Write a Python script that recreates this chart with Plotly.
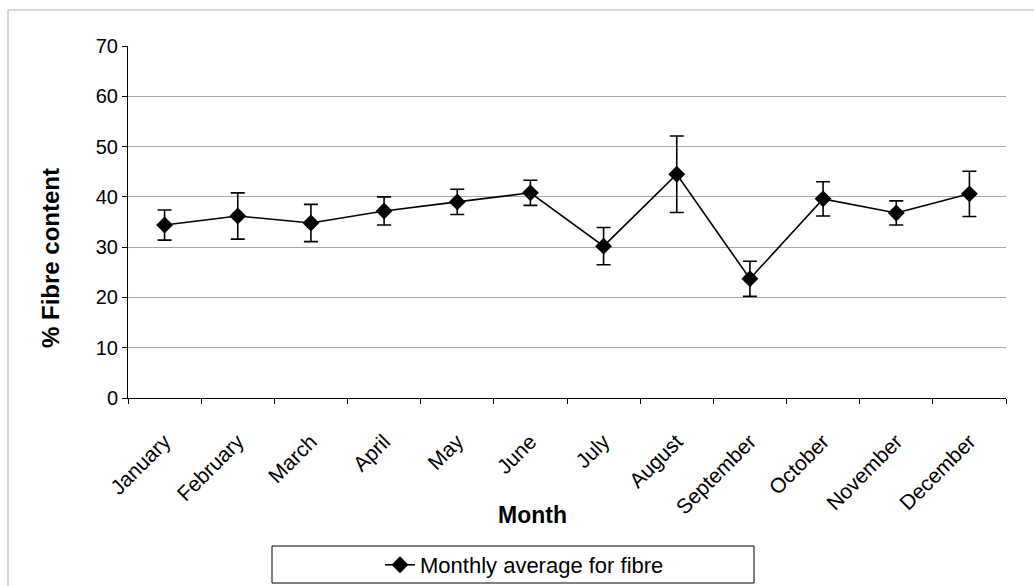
import plotly.graph_objects as go

months = ["January", "February", "March", "April", "May", "June",
          "July", "August", "September", "October", "November", "December"]
fibre_mean = [34.4, 36.2, 34.8, 37.2, 39.0, 40.8, 30.2, 44.5, 23.7, 39.6, 36.8, 40.6]
fibre_err = [3.0, 4.6, 3.7, 2.8, 2.5, 2.5, 3.7, 7.6, 3.5, 3.4, 2.4, 4.5]
y_ticks = [0, 10, 20, 30, 40, 50, 60, 70]

W, H = 1034, 586
L, R, T, B = 128, 28, 46, 188
pw, ph = W - L - R, H - T - B

def px(x):
    return (x - L) / pw

def py(y):
    return (H - B - y) / ph

fig = go.Figure()
fig.add_trace(go.Scatter(
    x=months, y=fibre_mean, mode="lines+markers",
    name="Monthly average for fibre",
    line=dict(color="black", width=1.6),
    marker=dict(symbol="diamond", size=13, color="black"),
    error_y=dict(type="data", array=fibre_err, visible=True,
                 color="black", thickness=1.6, width=7),
))

font = "Liberation Sans, Arial, sans-serif"
fig.update_layout(
    width=W, height=H,
    margin=dict(l=L, r=R, t=T, b=B, autoexpand=False),
    paper_bgcolor="white", plot_bgcolor="white",
    font=dict(family=font, color="black"),
    showlegend=True,
    legend=dict(x=px(380), y=py(565), xanchor="left", yanchor="middle",
                bgcolor="rgba(0,0,0,0)", borderwidth=0,
                font=dict(size=22, family=font, color="black")),
    xaxis=dict(
        type="category", tickangle=-45, ticks="outside", tickson="boundaries",
        ticklen=5, tickcolor="black", showline=True, linecolor="black",
        linewidth=1, showgrid=False, tickfont=dict(size=21),
        ticklabelstandoff=22, automargin=False,
        range=[-0.5, 11.5],
    ),
    yaxis=dict(
        range=[0, 70], tickvals=y_ticks, ticks="outside", ticklen=5,
        tickcolor="black", showline=True, linecolor="black", linewidth=1,
        showgrid=True, gridcolor="#a8a8a8", gridwidth=1,
        tickfont=dict(size=20), zeroline=False, automargin=False,
    ),
    annotations=[
        dict(text="<b>% Fibre content</b>", xref="paper", yref="paper",
             x=px(50), y=py(258), xanchor="center", yanchor="middle",
             textangle=-90, showarrow=False,
             font=dict(size=24, family=font)),
        dict(text="<b>Month</b>", xref="paper", yref="paper",
             x=px(532), y=py(515), xanchor="center", yanchor="middle",
             showarrow=False, font=dict(size=23, family=font)),
    ],
    shapes=[
        dict(type="rect", xref="paper", yref="paper",
             x0=px(272), x1=px(754), y0=py(583), y1=py(546),
             line=dict(color="black", width=1)),
        dict(type="rect", xref="paper", yref="paper",
             x0=px(8), x1=px(1040), y0=py(600), y1=py(10),
             line=dict(color="#b0b0b0", width=1)),
    ],
)

fig.write_html("out.html")
